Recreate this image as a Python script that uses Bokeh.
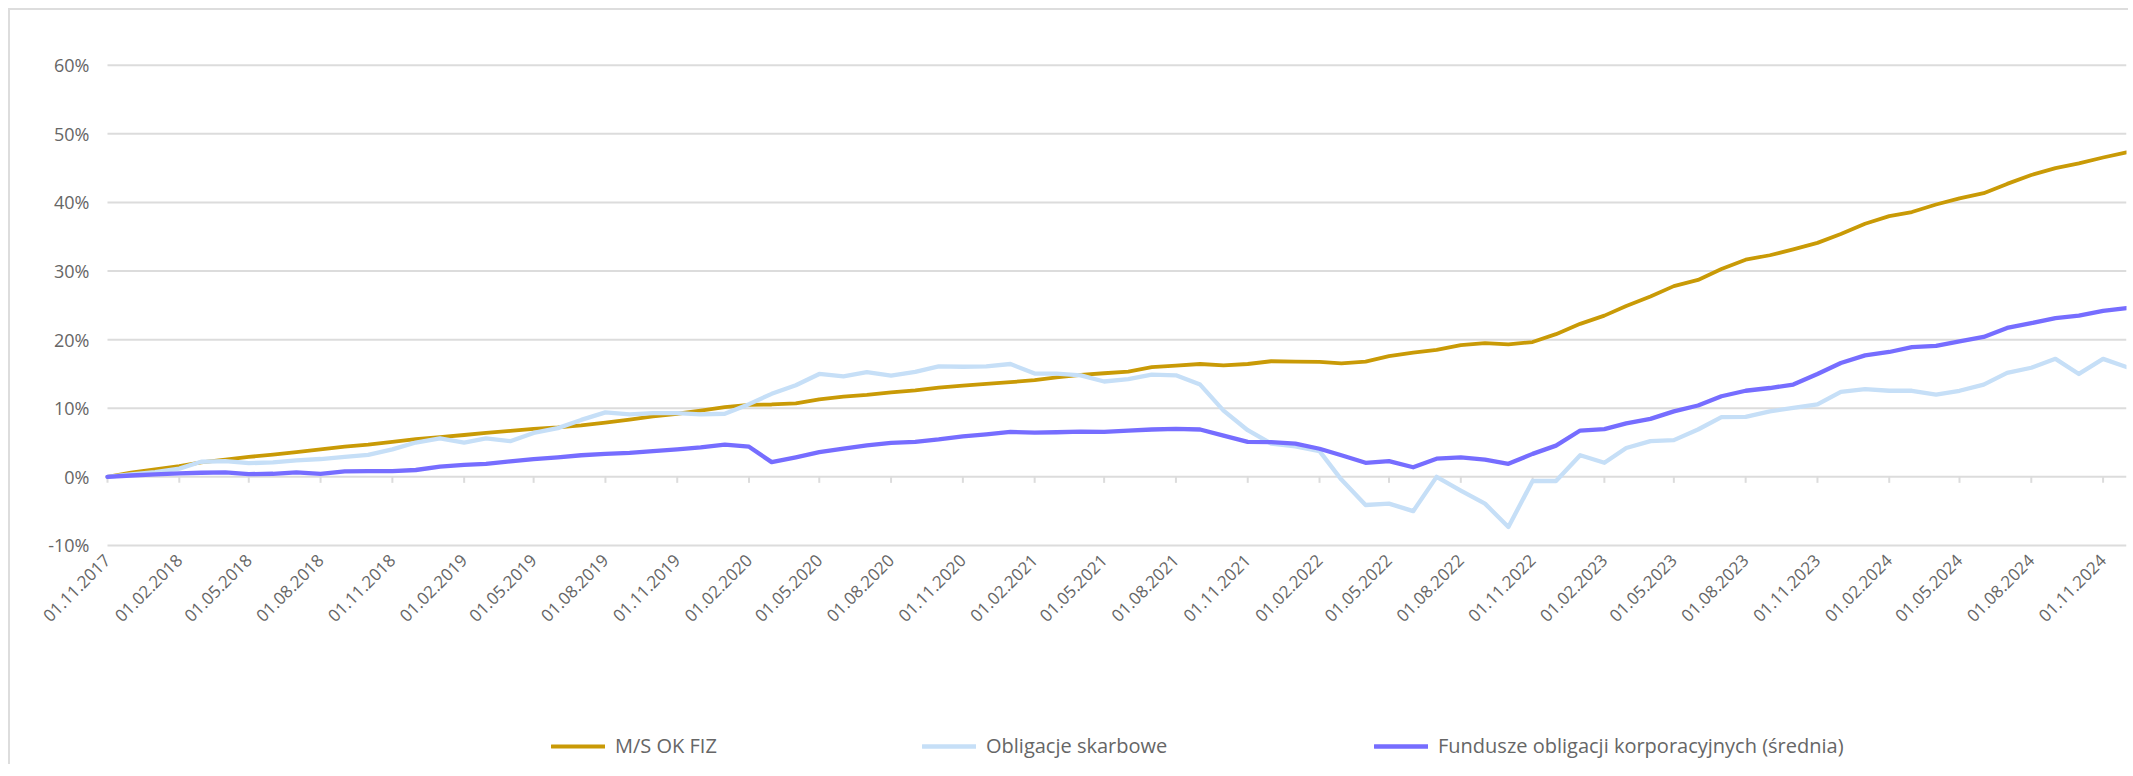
import math
import pandas as pd
from bokeh.plotting import figure
from bokeh.models import (Range1d, FixedTicker, DatetimeTickFormatter, PrintfTickFormatter,
                          DatetimeAxis, LinearAxis, Legend, LegendItem, ColumnDataSource)
from bokeh.embed import file_html
from bokeh.resources import INLINE

# ---------------- data ----------------
dates = pd.date_range("2017-11-01", "2024-12-01", freq="MS")
tick_dates = pd.date_range("2017-11-01", "2024-11-01", freq="3MS")

names = ["M/S OK FIZ", "Obligacje skarbowe", "Fundusze obligacji korporacyjnych (średnia)"]
colors = ["#C99A06", "#C6DFF7", "#766DFF"]

ms_ok_fiz = [0.0, 0.6, 1.1, 1.55, 2.1, 2.5, 2.9, 3.25, 3.6, 4.0, 4.4, 4.7, 5.1, 5.5, 5.8, 6.1,
             6.4, 6.7, 7.0, 7.2, 7.5, 7.9, 8.35, 8.8, 9.2, 9.65, 10.15, 10.5, 10.55, 10.7, 11.3,
             11.7, 11.95, 12.3, 12.6, 13.0, 13.3, 13.55, 13.8, 14.1, 14.5, 14.85, 15.1, 15.35,
             16.0, 16.2, 16.45, 16.25, 16.45, 16.85, 16.8, 16.75, 16.55, 16.8, 17.6, 18.1, 18.5,
             19.2, 19.5, 19.3, 19.65, 20.8, 22.3, 23.5, 24.9, 26.3, 27.8, 28.7, 30.3, 31.65, 32.3,
             33.15, 34.1, 35.4, 36.9, 38.0, 38.6, 39.7, 40.6, 41.35, 42.7, 44.0, 45.0, 45.7,
             46.55, 47.3]

obligacje = [0.0, 0.35, 0.7, 1.2, 2.2, 2.3, 2.0, 2.1, 2.4, 2.6, 2.9, 3.2, 4.0, 5.0, 5.6, 5.0,
             5.6, 5.2, 6.4, 7.1, 8.3, 9.4, 9.1, 9.3, 9.3, 9.1, 9.2, 10.6, 12.1, 13.35, 15.0,
             14.65, 15.25, 14.75, 15.3, 16.1, 16.05, 16.1, 16.45, 15.05, 15.05, 14.8, 13.9, 14.25,
             14.9, 14.8, 13.45, 9.65, 6.8, 4.85, 4.45, 3.75, -0.4, -4.1, -3.9, -5.0, 0.0, -2.0,
             -3.9, -7.3, -0.6, -0.6, 3.15, 2.05, 4.2, 5.2, 5.35, 6.9, 8.7, 8.75, 9.55, 10.05,
             10.55, 12.4, 12.8, 12.55, 12.55, 12.0, 12.55, 13.45, 15.15, 15.9, 17.2, 15.0, 17.2,
             16.0]

fundusze = [0.0, 0.2, 0.35, 0.5, 0.6, 0.65, 0.4, 0.45, 0.65, 0.45, 0.8, 0.85, 0.85, 1.0, 1.5,
            1.75, 1.9, 2.25, 2.6, 2.85, 3.15, 3.35, 3.5, 3.75, 4.0, 4.3, 4.7, 4.4, 2.15, 2.85,
            3.6, 4.1, 4.6, 4.95, 5.1, 5.45, 5.9, 6.2, 6.55, 6.45, 6.5, 6.6, 6.55, 6.75, 6.9, 7.0,
            6.9, 6.0, 5.1, 5.05, 4.85, 4.1, 3.15, 2.05, 2.3, 1.4, 2.65, 2.85, 2.5, 1.9, 3.35,
            4.55, 6.75, 6.95, 7.8, 8.45, 9.55, 10.4, 11.75, 12.55, 12.95, 13.45, 15.0, 16.6,
            17.7, 18.2, 18.9, 19.1, 19.75, 20.4, 21.7, 22.4, 23.15, 23.5, 24.2, 24.6]

y_ticks = [-10, 0, 10, 20, 30, 40, 50, 60]

# ---------------- figure ----------------
def to_ms(d):
    return d.timestamp() * 1000.0

x_ms = [to_ms(d) for d in dates]
tick_ms = [to_ms(d) for d in tick_dates]

FONT = "Open Sans"
TXT = "#666666"
GRID = "#dcdcdc"

W, H = 2120, 756
BL, BR, BT, BB = 20, 4, 16, 4
LEFT_PAD = 77          # px of free frame space left of the first date (room for labels)
data_px = W - BL - BR - LEFT_PAD
span = x_ms[-1] - x_ms[0]
x_start = x_ms[0] - span * LEFT_PAD / data_px

PX_PER_PCT = 6.861
TOP_LINE = 54.7        # canvas y of the 60% line
BOTTOM_LINE = TOP_LINE + 70 * PX_PER_PCT   # canvas y of the -10% line
y_end = 60 + (TOP_LINE - BT) / PX_PER_PCT
y_start = -10 - (H - BB - BOTTOM_LINE) / PX_PER_PCT

p = figure(width=W, height=H, x_axis_type="datetime", x_axis_location=None,
           y_axis_location=None, output_backend="svg", toolbar_location=None,
           x_range=Range1d(x_start, x_ms[-1]), y_range=Range1d(y_start, y_end),
           min_border_left=BL, min_border_right=BR, min_border_top=BT, min_border_bottom=BB,
           background_fill_color="white", border_fill_color="white")
p.styles = {"margin-left": "8px", "margin-top": "8px",
            "border-top": "2px solid #dddddd", "border-left": "2px solid #dddddd"}
p.outline_line_color = None
p.xgrid.visible = False
p.ygrid.visible = False

# y axis anchored at the first date
yax = LinearAxis(fixed_location=x_ms[0], ticker=FixedTicker(ticks=y_ticks),
                 formatter=PrintfTickFormatter(format="%d%%"),
                 axis_line_color=None, major_tick_line_color=None, minor_tick_line_color=None,
                 major_tick_out=0, major_tick_in=0, major_label_standoff=18,
                 major_label_text_font=FONT, major_label_text_font_size="18px",
                 major_label_text_color=TXT)
p.add_layout(yax, "left")

fmt = "%d.%m.%Y"
label_axis = DatetimeAxis(fixed_location=-10, ticker=FixedTicker(ticks=tick_ms),
                          formatter=DatetimeTickFormatter(milliseconds=fmt, seconds=fmt,
                                                          minsec=fmt, minutes=fmt, hourmin=fmt,
                                                          hours=fmt, days=fmt, months=fmt,
                                                          years=fmt),
                          axis_line_color=None, major_tick_line_color=None,
                          minor_tick_line_color=None, major_tick_in=0, major_tick_out=0,
                          major_label_standoff=12, major_label_orientation=math.pi / 4,
                          major_label_text_font=FONT, major_label_text_font_size="17px",
                          major_label_text_color=TXT)
p.add_layout(label_axis, "below")

# horizontal grid lines spanning the data period
n = len(y_ticks)
p.segment(x0=[x_ms[0]] * n, y0=y_ticks, x1=[x_ms[-1]] * n, y1=y_ticks,
          line_color=GRID, line_width=2)

# small tick marks hanging below the 0% line
k = len(tick_ms)
p.segment(x0=tick_ms, y0=[0] * k, x1=tick_ms, y1=[-6 / PX_PER_PCT] * k,
          line_color=GRID, line_width=2)

# lines
series = [ms_ok_fiz, obligacje, fundusze]
widths = [3.8, 4.3, 4.3]
renderers = []
for vals, col, w in zip(series, colors, widths):
    src = ColumnDataSource(dict(x=x_ms, y=vals))
    r = p.line("x", "y", source=src, line_color=col, line_width=w,
               line_join="round", line_cap="round")
    renderers.append(r)

# legend entries (inside the frame, below the axis labels)
leg_x = [444 + LEFT_PAD, 815 + LEFT_PAD, 1267 + LEFT_PAD]
for name, r, lx in zip(names, renderers, leg_x):
    lg = Legend(items=[LegendItem(label=name, renderers=[r])], location=(lx, 3),
                orientation="horizontal", glyph_width=54, glyph_height=24, label_height=24,
                label_standoff=10, padding=0, margin=0, border_line_color=None,
                background_fill_alpha=0, label_text_font=FONT, label_text_font_size="20px",
                label_text_color=TXT)
    p.add_layout(lg, "center")

open("out.html", "w").write(file_html(p, INLINE))
